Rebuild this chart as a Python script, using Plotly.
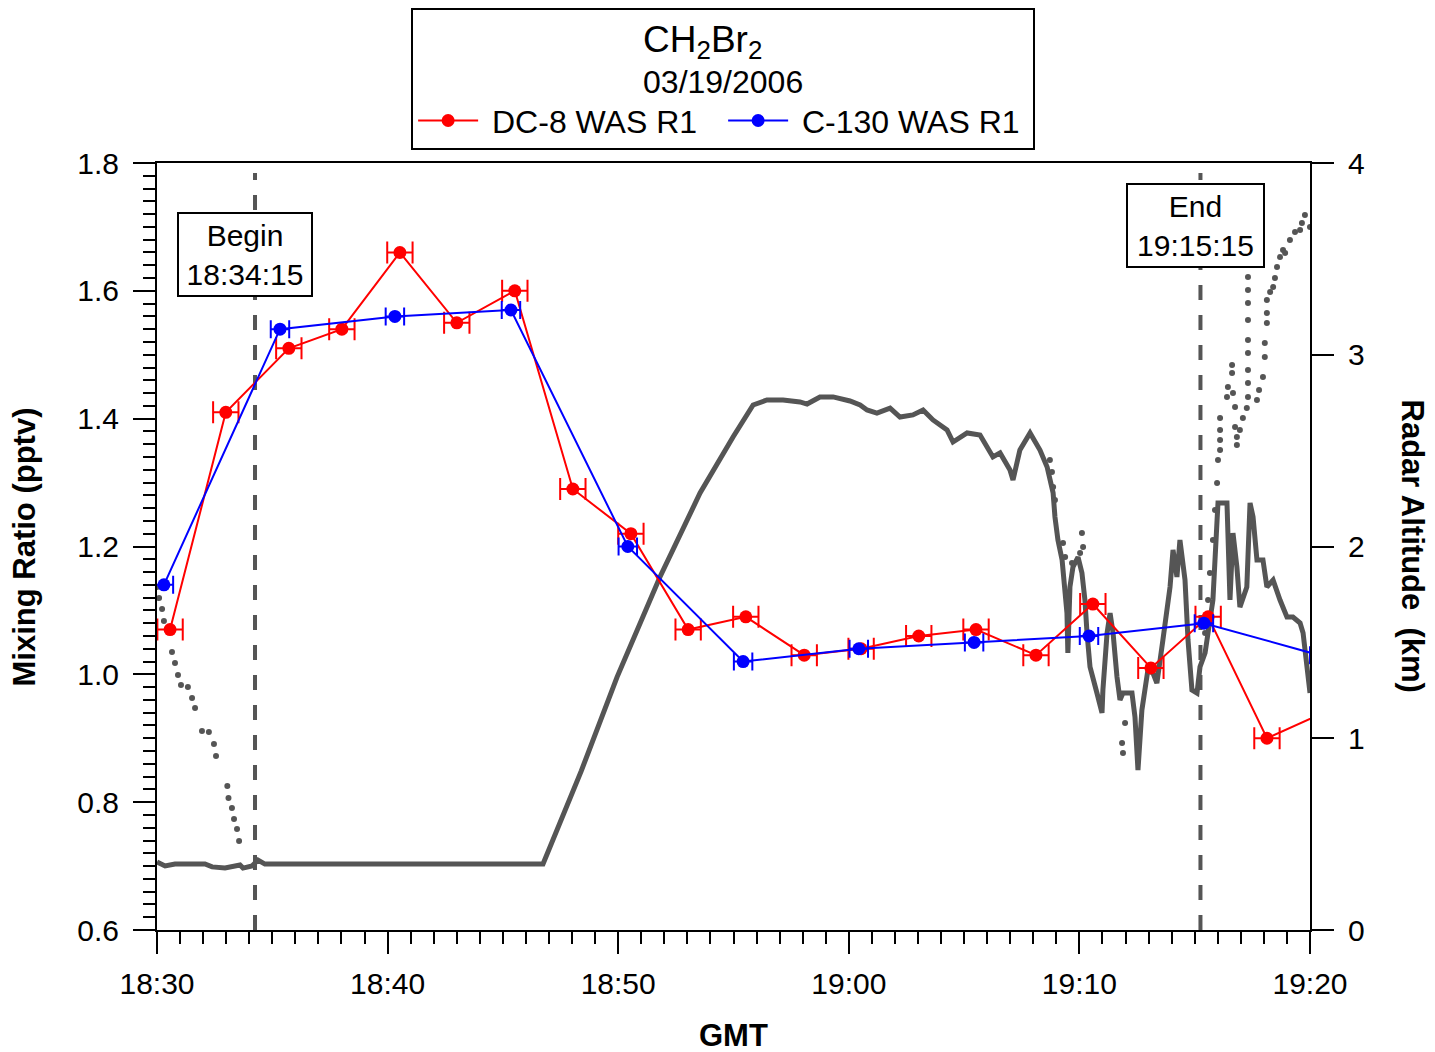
import plotly.graph_objects as go

# DC-8 WAS R1 CH2Br2 (pptv)
dc8_time = ["18:30:34", "18:32:59", "18:35:43", "18:38:01", "18:40:32", "18:43:00", "18:45:31",
            "18:48:02", "18:50:33", "18:53:02", "18:55:32", "18:58:04", "19:00:32", "19:03:02",
            "19:05:31", "19:08:07", "19:10:35", "19:13:06", "19:15:35", "19:18:08", "19:20:36"]
dc8_ch2br2 = [1.07, 1.41, 1.51, 1.54, 1.66, 1.55, 1.60, 1.29, 1.22, 1.07, 1.09, 1.03, 1.04, 1.06,
              1.07, 1.03, 1.11, 1.01, 1.09, 0.90, 0.94]

# C-130 WAS R1 CH2Br2 (pptv)
c130_time = ["18:30:18", "18:35:20", "18:40:19", "18:45:21", "18:50:25", "18:55:25", "19:00:26",
             "19:05:26", "19:10:25", "19:15:24", "19:20:24"]
c130_ch2br2 = [1.14, 1.54, 1.56, 1.57, 1.20, 1.02, 1.04, 1.05, 1.06, 1.08, 1.03]

# Radar altitude (km), time in minutes after 18:30 — solid trace
alt1_min = [0, 0.35, 0.78, 2.08, 2.39, 2.95, 3.6, 3.73, 4.12, 4.38, 4.68, 16.74, 18.4, 19.95, 21.81,
            23.55, 24.98, 25.85, 26.45, 27.15, 27.88, 28.19, 28.75, 29.32, 30.05, 30.49, 30.79,
            31.22, 31.79, 32.22, 32.78, 33.22, 33.65, 34.26, 34.52, 35.13, 35.69, 36.25, 36.56,
            36.99, 37.12, 37.42, 37.86, 38.29, 38.6, 38.86, 38.94, 39.07, 39.25, 39.38, 39.46,
            39.5, 39.59, 39.72, 39.94, 40.11, 40.24, 40.33, 40.46, 40.76, 40.98, 41.02, 41.2,
            41.33, 41.46, 41.63, 41.76, 41.89, 42.06, 42.28, 42.41, 42.54, 42.71, 42.84, 42.97,
            43.19, 43.36, 43.62, 43.8, 43.93, 44.06, 44.23, 44.36, 44.49, 44.58, 44.71, 44.88,
            45.1, 45.23, 45.45, 45.58, 45.79, 45.97, 46.01, 46.4, 46.53, 46.66, 46.83, 46.96,
            47.26, 47.4, 47.53, 47.7, 47.96, 48.13, 48.4, 48.7, 49.0, 49.26, 49.57, 49.7, 49.87, 50.0]
alt1_km = [0.355, 0.334, 0.344, 0.344, 0.329, 0.323, 0.339, 0.323, 0.334, 0.365, 0.344, 0.344, 0.83,
           1.319, 1.841, 2.279, 2.571, 2.738, 2.764, 2.764, 2.754, 2.743, 2.78, 2.78, 2.759,
           2.738, 2.712, 2.696, 2.722, 2.675, 2.686, 2.712, 2.660, 2.608, 2.545, 2.592, 2.581,
           2.467, 2.488, 2.399, 2.347, 2.503, 2.592, 2.503, 2.415, 2.279, 2.154, 2.034, 1.93,
           1.789, 1.653, 1.445, 1.789, 1.893, 1.945, 1.862, 1.721, 1.549, 1.372, 1.236, 1.132,
           1.252, 1.549, 1.653, 1.549, 1.319, 1.2, 1.236, 1.236, 1.236, 1.111, 0.834, 1.147,
           1.252, 1.356, 1.34, 1.288, 1.512, 1.684, 1.789, 1.982, 1.841, 2.034, 1.93, 1.825,
           1.512, 1.252, 1.236, 1.372, 1.445, 1.549, 1.721, 2.138, 2.227, 2.227, 1.721, 2.07,
           1.893, 1.684, 1.789, 2.227, 2.154, 1.93, 1.93, 1.789, 1.825, 1.721, 1.632, 1.632,
           1.601, 1.549, 1.34, 1.236]

# Radar altitude (km), time in minutes after 18:30 — dotted trace
alt2_min = [0, 0.09, 0.22, 0.3, 0.65, 0.78, 0.91, 1.04, 1.34, 1.52, 1.65, 1.95, 2.25, 2.47, 2.56,
            3.05, 3.1, 3.25, 3.34, 3.47, 3.56,
            38.72, 38.81, 38.86, 38.94, 39.29, 39.38, 39.68, 40.03, 40.11, 40.16, 41.85, 41.89, 41.98,
            45.45, 45.58, 45.66, 45.79, 45.88, 45.97, 46.01, 46.1, 46.1, 46.1, 46.1, 46.4, 46.44,
            46.62, 46.62, 46.66, 46.75, 46.75, 46.83, 46.83, 46.96, 47.09, 47.26, 47.31, 47.31,
            47.31, 47.31, 47.31, 47.31, 47.31, 47.31, 47.31, 47.7, 47.79, 47.96, 48.04, 48.04,
            48.13, 48.13, 48.13, 48.27, 48.4, 48.48, 48.57, 48.7, 48.83, 48.92, 49.13, 49.35,
            49.57, 49.65, 49.78, 50.0]
alt2_km = [1.789, 1.731, 1.674, 1.611, 1.45, 1.392, 1.33, 1.278, 1.267, 1.21, 1.158, 1.038, 1.033,
           0.97, 0.907, 0.751, 0.688, 0.636, 0.579, 0.527, 0.464,
           2.451, 2.389, 2.31, 2.243, 2.018, 1.945, 1.914, 1.966, 2.07, 1.997, 0.975, 0.923, 1.08,
           1.549, 1.721, 1.862, 2.034, 2.19, 2.331, 2.451, 2.503, 2.555, 2.608, 2.67, 2.78, 2.832,
           2.905, 2.946, 2.8, 2.727, 2.623, 2.571, 2.529, 2.608, 2.67, 2.722, 2.78, 2.853, 2.92,
           3.009, 3.077, 3.181, 3.27, 3.338, 3.405, 2.764, 2.816, 2.884, 2.988, 3.061, 3.166,
           3.218, 3.286, 3.327, 3.353, 3.4, 3.458, 3.51, 3.546, 3.531, 3.598, 3.64, 3.651,
           3.687, 3.729, 3.666]

x_tick_labels = ["18:30", "18:40", "18:50", "19:00", "19:10", "19:20"]
begin_time = "18:34:15"
end_time = "19:15:15"

FONT = "Arial, Liberation Sans, sans-serif"
GRAY = "#555555"
NBSP = "\u00a0"


def to_min(hms):
    parts = [int(p) for p in hms.split(":")]
    while len(parts) < 3:
        parts.append(0)
    h, m, s = parts
    return h * 60 + m + s / 60.0 - (18 * 60 + 30)


fig = go.Figure()

fig.add_trace(go.Scatter(x=alt1_min, y=alt1_km, mode="lines", yaxis="y",
                         line=dict(color=GRAY, width=5), showlegend=False, hoverinfo="skip"))
fig.add_trace(go.Scatter(x=alt2_min, y=alt2_km, mode="markers", yaxis="y",
                         marker=dict(color=GRAY, size=6), showlegend=False, hoverinfo="skip"))

fig.add_trace(go.Scatter(x=[to_min(t) for t in dc8_time], y=dc8_ch2br2, mode="lines+markers",
                         name=NBSP + "DC-8 WAS R1", yaxis="y2",
                         line=dict(color="#ff0000", width=2),
                         marker=dict(color="#ff0000", size=13),
                         error_x=dict(type="constant", value=0.55, color="#ff0000",
                                      thickness=2, width=11)))
fig.add_trace(go.Scatter(x=[to_min(t) for t in c130_time], y=c130_ch2br2, mode="lines+markers",
                         name=NBSP + "C-130 WAS R1", yaxis="y2",
                         line=dict(color="#0000ff", width=2),
                         marker=dict(color="#0000ff", size=13),
                         error_x=dict(type="constant", value=0.4, color="#0000ff",
                                      thickness=2, width=9)))

for t in (begin_time, end_time):
    fig.add_shape(type="line", xref="x", yref="paper", x0=to_min(t), x1=to_min(t), y0=0, y1=0.987,
                  line=dict(color=GRAY, width=4, dash="15px,15px"), layer="below")

fig.add_annotation(x=to_min("18:33:49"), xref="x", y=0.881, yref="paper",
                   xanchor="center", yanchor="middle",
                   text=f"Begin<br>{begin_time}", showarrow=False,
                   font=dict(family=FONT, size=30, color="black"),
                   bgcolor="white", bordercolor="black", borderwidth=2, borderpad=2,
                   width=128, height=77)
fig.add_annotation(x=to_min("19:15:02"), xref="x", y=0.9185, yref="paper",
                   xanchor="center", yanchor="middle",
                   text=f"End<br>{end_time}", showarrow=False,
                   font=dict(family=FONT, size=30, color="black"),
                   bgcolor="white", bordercolor="black", borderwidth=2, borderpad=2,
                   width=131, height=77)

fig.add_annotation(x=-0.1145, y=0.5, xref="paper", yref="paper", text="<b>Mixing Ratio (pptv)</b>",
                   xanchor="center", yanchor="middle",
                   textangle=-90, showarrow=False, font=dict(family=FONT, size=31, color="black"))
fig.add_annotation(x=1.0893, y=0.5, xref="paper", yref="paper", text="<b>Radar Altitude  (km)</b>",
                   xanchor="center", yanchor="middle",
                   textangle=90, showarrow=False, font=dict(family=FONT, size=31, color="black"))
fig.add_annotation(x=0.5, y=-0.137, xref="paper", yref="paper", text="<b>GMT</b>",
                   xanchor="center", yanchor="middle",
                   showarrow=False, font=dict(family=FONT, size=31, color="black"))

axis_common = dict(showgrid=False, zeroline=False, showline=True, linewidth=2, linecolor="black",
                   ticks="outside", tickwidth=2, tickcolor="black",
                   tickfont=dict(family=FONT, size=30, color="black"))

fig.update_layout(
    width=1435, height=1052, autosize=False,
    margin=dict(l=149, r=133, t=155, b=130, autoexpand=False),
    paper_bgcolor="white", plot_bgcolor="white",
    font=dict(family=FONT, color="black"),
    xaxis=dict(range=[0, to_min("19:20:00")],
               tickvals=[to_min(t) for t in x_tick_labels], ticktext=x_tick_labels,
               ticklen=22, mirror=True, ticklabelstandoff=4,
               minor=dict(tick0=0, dtick=1, ticks="outside", ticklen=12, tickwidth=2,
                          tickcolor="black", showgrid=False),
               **axis_common),
    yaxis=dict(range=[0, 4], side="right", tick0=0, dtick=1, ticklen=22, ticklabelstandoff=8,
               **axis_common),
    yaxis2=dict(range=[0.6, 1.8], overlaying="y", side="left", tick0=0.6, dtick=0.2,
                tickformat=".1f", ticklen=22, ticklabelstandoff=8,
                minor=dict(tick0=0.6, dtick=0.02, ticks="outside", ticklen=12, tickwidth=2,
                           tickcolor="black", showgrid=False),
                **axis_common),
    legend=dict(orientation="h", x=0.491, xanchor="center", y=1.2021, yanchor="top",
                bordercolor="black", borderwidth=2, bgcolor="white",
                font=dict(family=FONT, size=32, color="black"),
                title=dict(text="<span style='font-size:37px'>CH<sub>2</sub>Br<sub>2</sub></span>"
                                "<br>03/19/2006", side="top center",
                           font=dict(family=FONT, size=32, color="black")),
                itemwidth=60, entrywidth=235),
)

fig.write_html("out.html")
